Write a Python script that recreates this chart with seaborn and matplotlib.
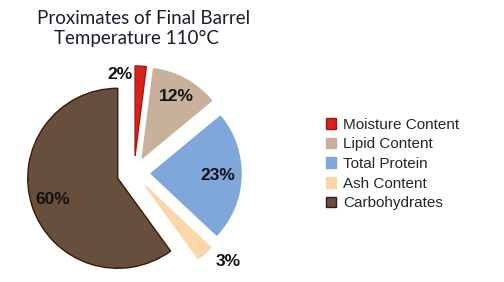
import numpy as np
import matplotlib
matplotlib.use("Agg")
import matplotlib.pyplot as plt
import seaborn as sns
from matplotlib.patches import Patch

sns.set_theme(style="white")
plt.rcParams['font.family'] = ['Liberation Sans', 'DejaVu Sans']

categories = ["Moisture Content", "Lipid Content", "Total Protein", "Ash Content", "Carbohydrates"]
values = [2, 12, 23, 3, 60]
pct_labels = ["2%", "12%", "23%", "3%", "60%"]
colors = ["#d9221b", "#c8b19b", "#7fa7da", "#fad6ab", "#66503d"]
edges = ["#a81510", "#c8b19b", "#7fa7da", "#fad6ab", "#3f1608"]
title_lines = ["Proximates of Final Barrel", "Temperature 110\u00b0C"]

fig = plt.figure(figsize=(5.04, 2.82), dpi=100)
W, H = 504, 282
R = 90
cx, cy = 134, 109
ax = fig.add_axes([(cx - 1.25 * R) / W, (cy - 1.25 * R) / H, 2.5 * R / W, 2.5 * R / H])

explode = [0.19, 0.19, 0.19, 0.19, 0.19]
wedges, _ = ax.pie(values, colors=colors, startangle=90, counterclock=False,
                   explode=explode, radius=1,
                   wedgeprops=dict(linewidth=1.0))
for w, ec in zip(wedges, edges):
    w.set_edgecolor(ec)

ax.set_xlim(-1.25, 1.25)
ax.set_ylim(-1.25, 1.25)
ax.set_aspect('equal')
ax.axis('off')

# label placement: (distance, angle offset in degrees from mid-angle)
place = [(0.92, 14), (0.78, 0), (0.74, 0), (1.25, 6), (0.76, 0)]
for w, lab, (d, off) in zip(wedges, pct_labels, place):
    mid = np.deg2rad((w.theta1 + w.theta2) / 2 + off)
    x = w.center[0] + d * np.cos(mid)
    y = w.center[1] + d * np.sin(mid)
    ax.text(x, y, lab, ha='center', va='center', fontsize=12.5,
            fontweight='bold', color='#111111')

for (xc, yc), line in zip([(144, 18), (136, 38)], title_lines):
    fig.text(xc / W, 1 - yc / H, line, ha='center', va='center', fontsize=13.5,
             color='#1c1c2c', family=['Lato', 'DejaVu Sans'])

handles = [Patch(facecolor=c, edgecolor=e, linewidth=1.0) for c, e in zip(colors, edges)]
fig.legend(handles, categories, loc='center left', bbox_to_anchor=(318 / W, 1 - 164 / H),
           frameon=False, fontsize=11, handlelength=0.68, handleheight=0.68,
           handletextpad=0.45, labelspacing=0.37, borderpad=0)

fig.savefig("out.png", dpi=100)
